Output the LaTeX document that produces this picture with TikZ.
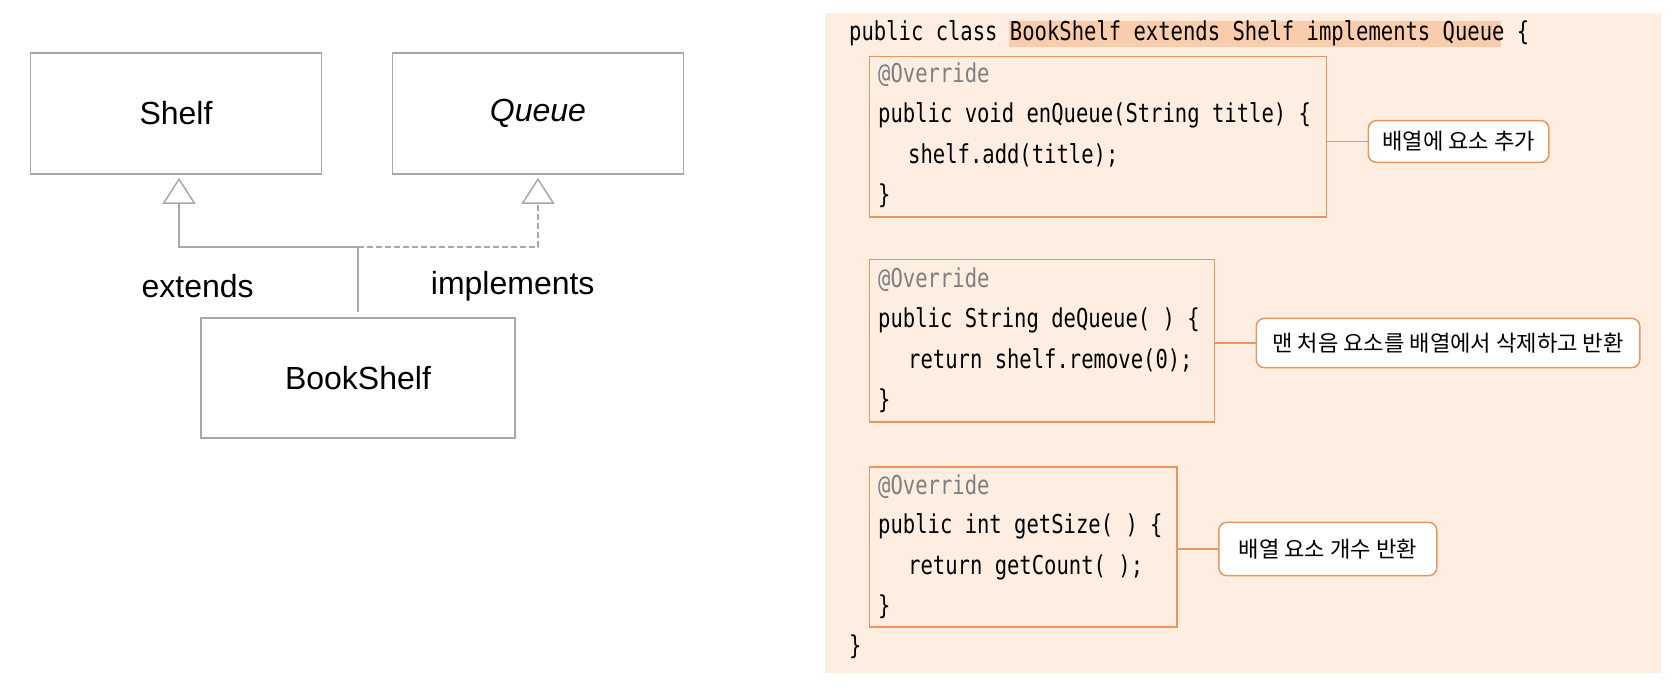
\documentclass[tikz,border=0pt]{standalone}
\usepackage{fontspec}
\setmainfont{Liberation Sans}
\newfontfamily\codefont[FakeStretch=0.79]{DejaVu Sans Mono}
\newfontfamily\krfont{Noto Sans CJK KR}
\usetikzlibrary{arrows.meta}
\definecolor{umlgray}{HTML}{A8A8A8}
\definecolor{panelbg}{HTML}{FDEEE1}
\definecolor{hilite}{HTML}{F9CDAB}
\definecolor{codeorange}{HTML}{E9975E}
\definecolor{anno}{HTML}{7F7F7F}
\begin{document}
\begin{tikzpicture}[x=1pt,y=-1pt,
  umlbox/.style={draw=umlgray, line width=1.6pt, minimum width=291pt, minimum height=121pt, inner sep=0pt, font=\fontsize{32}{38}\selectfont},
  umlline/.style={draw=umlgray, line width=1.5pt},
  umltip/.style={-{Triangle[open, width=33pt, length=26pt, line width=1.5pt]}, shorten >=3pt},
  lbl/.style={font=\fontsize{32}{38}\selectfont, inner sep=0pt},
  codebox/.style={draw=codeorange, line width=1.5pt, inner sep=0pt},
  code/.style={anchor=west, inner sep=0pt, font=\codefont\fontsize{26}{30}\selectfont, text height=18pt, text depth=6pt},
  ann/.style={code, text=anno},
  callout/.style={draw=codeorange, fill=white, line width=1.5pt, rounded corners=8pt, inner sep=0pt, font=\krfont\fontsize{22.2}{26}\selectfont},
  link/.style={draw=codeorange, line width=1.5pt}]
\useasboundingbox (0,0) rectangle (1675,691);
% ---- UML diagram ----
\node[umlbox] (shelf) at (176,113.5) {Shelf};
\node[umlbox] (queue) at (538,113.5) {\itshape Queue};
\node[umlbox, minimum width=314pt, minimum height=120pt] (bs) at (358,378) {BookShelf};
\coordinate (j) at (358,247);
\draw[umlline, umltip] ([yshift=5pt]bs.north) -- (j) -| ([xshift=3pt]shelf.south);
\draw[umlline, dash pattern=on 6pt off 3pt, umltip] (j) -| (queue.south);
\node[lbl] (ext) at (197.6,286) {extends};
\node[lbl] (impl) at (512.7,286) {implements};
% ---- code panel ----
\fill[panelbg] (824.7,12.8) rectangle (1661,673);
\fill[hilite] (1008.6,21.4) rectangle (1500.8,47);
\node[code] (head) at (849,34) {public class BookShelf extends Shelf implements Queue \{};
% method 1
\node[codebox, minimum width=457.2pt, minimum height=160.2pt] (m1) at (1098.1,136.7) {};
\node[ann] (m1a) at (878,76.9) {@Override};
\node[code] (m1b) at (878,116.4) {public void enQueue(String title) \{};
\node[code] (m1c) at (908,157) {shelf.add(title);};
\node[code] (m1d) at (878,197.6) {\}};
\node[callout, minimum width=180.5pt, minimum height=41.7pt] (c1) at (1458.6,141.5) {배열에 요소 추가};
\draw[link] (m1.east |- c1.west) -- (c1.west);
% method 2
\node[codebox, minimum width=345pt, minimum height=162.3pt] (m2) at (1042,340.75) {};
\node[ann] (m2a) at (878,281) {@Override};
\node[code] (m2b) at (878,321.5) {public String deQueue( ) \{};
\node[code] (m2c) at (908,362) {return shelf.remove(0);};
\node[code] (m2d) at (878,402.7) {\}};
\node[callout, minimum width=383.5pt, minimum height=49.2pt] (c2) at (1448,343) {맨 처음 요소를 배열에서 삭제하고 반환};
\draw[link] (m2.east |- c2.west) -- (c2.west);
% method 3
\node[codebox, minimum width=307.7pt, minimum height=160.2pt] (m3) at (1023.35,546.9) {};
\node[ann] (m3a) at (878,488) {@Override};
\node[code] (m3b) at (878,527.7) {public int getSize( ) \{};
\node[code] (m3c) at (908,568.3) {return getCount( );};
\node[code] (m3d) at (878,608.9) {\}};
\node[callout, minimum width=217.9pt, minimum height=53.4pt] (c3) at (1327.8,549) {배열 요소 개수 반환};
\draw[link] (m3.east |- c3.west) -- (c3.west);
\node[code] (close) at (849,648.4) {\}};
\end{tikzpicture}
\end{document}
